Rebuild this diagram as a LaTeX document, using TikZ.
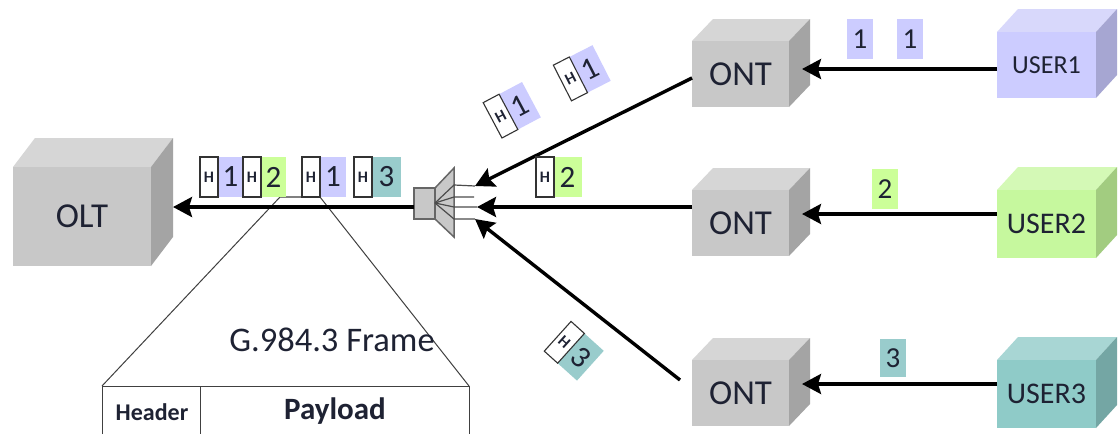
\documentclass[tikz,border=0pt]{standalone}
\usepackage{fontspec}
\setmainfont{Carlito}
\usetikzlibrary{arrows.meta,calc}
\newcommand{\fsz}[1]{\fontsize{#1}{#1}\selectfont}
\definecolor{gfront}{HTML}{C8C8C8}\definecolor{gtop}{HTML}{D6D6D6}\definecolor{gside}{HTML}{A4A4A4}
\definecolor{vfront}{HTML}{CCCCFF}\definecolor{vtop}{HTML}{D8D8FB}\definecolor{vside}{HTML}{A6A6D2}
\definecolor{lfront}{HTML}{C6F89E}\definecolor{ltop}{HTML}{D4F9B6}\definecolor{lside}{HTML}{A2CC80}
\definecolor{tfront}{HTML}{8FCBC8}\definecolor{ttop}{HTML}{A8D6D4}\definecolor{tside}{HTML}{74A6A4}
\definecolor{pkone}{HTML}{CCCCFF}\definecolor{pktwo}{HTML}{CCFF99}\definecolor{pkthree}{HTML}{99CCCC}
\definecolor{ink}{HTML}{1E2233}
\tikzset{
  frontface/.style={inner sep=0pt,outer sep=0pt,text=ink,anchor=north west},
  flow/.style={line width=3.4pt,black,-{Stealth[length=19pt,width=20pt,inset=3pt]}},
  hbox/.style={draw=black!80,line width=1.1pt,fill=white,minimum width=18pt,minimum height=40pt,inner sep=0pt,outer sep=0pt,anchor=west,font=\fsz{16}\bfseries,text=ink},
  onebox/.style={minimum width=26pt,minimum height=40pt,inner sep=0pt,outer sep=0pt,anchor=west,font=\fsz{31},text=ink},
  plain/.style={minimum width=26pt,minimum height=40pt,inner sep=0pt,outer sep=0pt,font=\fsz{29},text=ink},
  thin line/.style={draw=black!75,line width=1pt},
}
\newcommand{\dyy}{23}
% name, x, y, w, h, dx, colour prefix, text, size
\newcommand{\cube}[9]{%
  \fill[#7top] (#2,#3) -- ++(#6,-\dyy) -- ++(#4,0) -- ++(-#6,\dyy) -- cycle;
  \fill[#7side] (#2+#4,#3) -- ++(#6,-\dyy) -- ++(0,#5) -- ++(-#6,\dyy) -- cycle;
  \node[frontface,fill=#7front,minimum width=#4 pt,minimum height=#5 pt,font=\fsz{#9}] (#1) at (#2,#3) {#8};
}
\begin{document}
\begin{tikzpicture}[x=1pt,y=-1pt]
\useasboundingbox (0,0) rectangle (1118,434);
\fill[white] (0,0) rectangle (1118,434);

% frame zoom lines
\coordinate (fa) at (280,197);
\coordinate (fb) at (320,197);
\coordinate (fl) at (102,386);
\coordinate (fr) at (469,386);
\coordinate (fbl) at (102,434);
\coordinate (fbr) at (469,434);
\coordinate (fd) at (200,386);
\coordinate (fdb) at (200,434);
\draw[thin line] (fa) -- (fl) (fb) -- (fr);
\draw[draw=gray,line width=1.2pt] (fa) -- (fb);
\draw[thin line] (fbl) -- (fl) -- (fr) -- (fbr) (fd) -- (fdb);
\node[inner sep=0pt,text=ink,font=\fsz{34.5}] (ftitle) at (332,340) {G.984.3 Frame};
\node[inner sep=0pt,text=ink,font=\fsz{24}\bfseries] (fhead) at (152,412) {Header};
\node[inner sep=0pt,text=ink,font=\fsz{31}\bfseries] (fpay) at (335,411) {Payload};

% cubes
\renewcommand{\dyy}{29}
\cube{olt}{13}{167}{138}{99}{22}{g}{\raisebox{-4pt}{OLT}}{35}
\renewcommand{\dyy}{22}
\cube{ont1}{692}{41}{97}{66}{21}{g}{\raisebox{-2pt}{ONT}}{35}
\cube{ont2}{692}{190}{97}{66}{21}{g}{\raisebox{-2pt}{ONT}}{35}
\cube{ont3}{692}{360}{97}{66}{21}{g}{ONT}{35}
\renewcommand{\dyy}{23}
\cube{user1}{997}{32}{99}{66}{21}{v}{USER1}{26}
\cube{user2}{997}{190}{99}{68}{21}{l}{USER2}{30}
\cube{user3}{997}{360}{99}{68}{21}{t}{USER3}{30}

% splitter
\node[draw=black!60,line width=1.5pt,fill=gfront,minimum width=21pt,minimum height=31pt,inner sep=0pt,outer sep=0pt,anchor=north west] (spl) at (414,188) {};
\draw[black!60,line width=1.5pt,fill=gfront] (435,188) -- (454,168) -- (454,237) -- (435,219) -- cycle;
\coordinate (hub) at (435,203);
\coordinate (p1) at (475,186);
\coordinate (p2) at (474,197);
\coordinate (p3) at (477,207);
\coordinate (p4) at (475,219);
\draw[black!70,line width=1.2pt] (hub) -- (454,185) -- (p1);
\draw[black!70,line width=1.2pt] (hub) -- (454,197) -- (p2);
\draw[black!70,line width=1.2pt] (hub) -- (454,207) -- (p3);
\draw[black!70,line width=1.2pt] (hub) -- (454,219) -- (p4);

% flows
\coordinate (t1) at (802,69);
\coordinate (t2) at (802,214);
\coordinate (t3) at (802,384);
\coordinate (u1) at (997,69);
\coordinate (u2) at (997,214);
\coordinate (u3) at (997,384);
\coordinate (o1) at (692,78);
\coordinate (o2) at (692,207);
\coordinate (o3) at (680,380);
\coordinate (oltin) at (173,207);
\coordinate (splw) at (414,207);
\draw[flow] (u1) -- (t1);
\draw[flow] (u2) -- (t2);
\draw[flow] (u3) -- (t3);
\draw[flow] (o1) -- (p1);
\draw[flow] (o2) -- (p3);
\draw[flow] (o3) -- (p4);
\draw[flow] (splw) -- (oltin);

% user data
\node[plain,fill=pkone] (d1a) at (860,39) {1};
\node[plain,fill=pkone] (d1b) at (910,39) {1};
\node[plain,fill=pktwo] (d2) at (885,189) {2};
\node[plain,fill=pkthree,minimum height=38pt] (d3) at (893,358) {3};

% main packet row
\node[onebox,fill=pkone,minimum width=25pt] (a1) at (218,177) {1};
\node[hbox] (ah) at (200,177) {H};
\node[onebox,fill=pktwo,minimum width=25pt] (b2) at (261,177) {2};
\node[hbox] (bh) at (243,177) {H};
\node[onebox,fill=pkone] (c1) at (320,177) {1};
\node[hbox] (ch) at (302,177) {H};
\node[onebox,fill=pkthree,minimum width=29pt] (e3) at (372,177) {3};
\node[hbox] (eh) at (354,177) {H};
\node[onebox,fill=pktwo,minimum width=29pt] (f2) at (553,177) {2};
\node[hbox] (fh) at (536,177) {H};

% rotated packets
\begin{scope}[shift={(512,110)},rotate=28,transform shape]
\node[onebox,fill=pkone] (r1a) at (-4,0) {1};
\node[hbox] (r1h) at (-22,0) {H};
\end{scope}
\begin{scope}[shift={(582,73)},rotate=27,transform shape]
\node[onebox,fill=pkone] (r2a) at (-4,0) {1};
\node[hbox] (r2h) at (-22,0) {H};
\end{scope}
\begin{scope}[shift={(574,351)},rotate=-42,transform shape]
\node[onebox,fill=pkthree] (r3a) at (-4,0) {3};
\node[hbox] (r3h) at (-22,0) {H};
\end{scope}
\end{tikzpicture}
\end{document}
